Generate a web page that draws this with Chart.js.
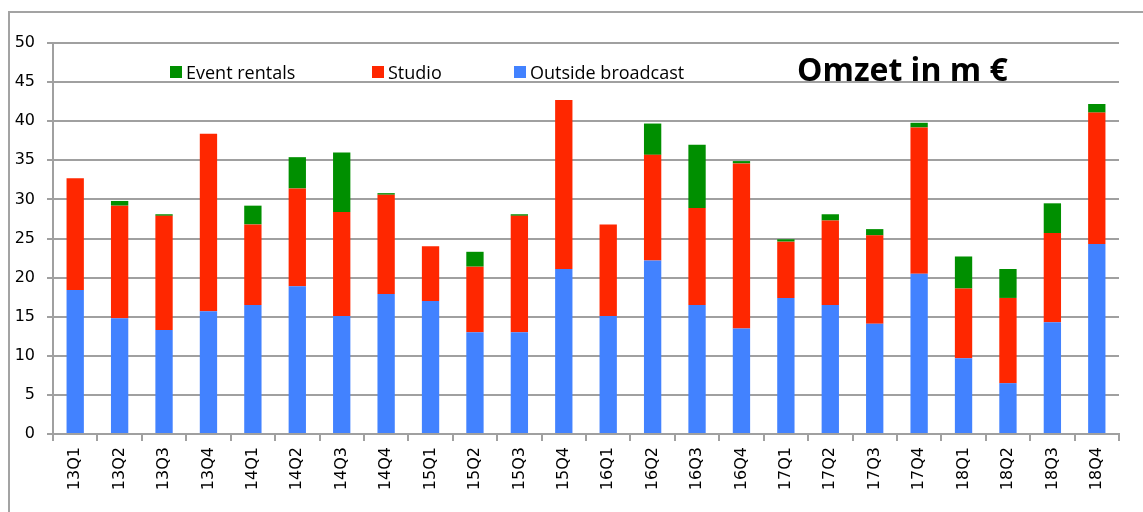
<!DOCTYPE html>
<html>
<head>
<meta charset="utf-8">
<script src="https://cdn.jsdelivr.net/npm/chart.js@4"></script>
<style>
    html, body { margin: 0; padding: 0; background: #fff; }
    #wrap { position: relative; width: 1143px; height: 512px; overflow: hidden; }
    #frame { position: absolute; left: 8px; top: 11px; width: 2000px; height: 1000px;
             border-left: 2px solid #a3a3a3; border-top: 2px solid #a3a3a3; }
    #chart { position: absolute; left: 0; top: 0; }
</style>
</head>
<body>
<div id="wrap">
    <div id="frame"></div>
    <canvas id="chart" width="1143" height="512"></canvas>
</div>
<script>
// Kwartalen 2013 - 2018
const quarters = ['13Q1','13Q2','13Q3','13Q4','14Q1','14Q2','14Q3','14Q4',
                  '15Q1','15Q2','15Q3','15Q4','16Q1','16Q2','16Q3','16Q4',
                  '17Q1','17Q2','17Q3','17Q4','18Q1','18Q2','18Q3','18Q4'];

// Omzet per segment (m €)
const outsideBroadcast = [18.4, 14.8, 13.3, 15.7, 16.5, 18.9, 15.1, 17.9,
                          17.0, 13.0, 13.0, 21.1, 15.1, 22.2, 16.5, 13.5,
                          17.4, 16.5, 14.1, 20.5, 9.7, 6.5, 14.3, 24.3];
const studio = [14.3, 14.4, 14.6, 22.7, 10.3, 12.5, 13.3, 12.7,
                7.0, 8.4, 14.9, 21.6, 11.7, 13.5, 12.4, 21.1,
                7.2, 10.8, 11.3, 18.7, 8.9, 10.9, 11.4, 16.8];
const eventRentals = [0, 0.6, 0.2, 0, 2.4, 4.0, 7.6, 0.2,
                      0, 1.9, 0.2, 0, 0, 4.0, 8.1, 0.3,
                      0.3, 0.8, 0.8, 0.6, 4.1, 3.7, 3.8, 1.1];

const yTicks = [0, 5, 10, 15, 20, 25, 30, 35, 40, 45, 50];

const GRID = '#a0a0a0';

// Legenda + titel binnen het plotgebied
const overlay = {
    id: 'overlay',
    afterDraw(chart) {
        const ctx = chart.ctx;
        const legendX = [170, 372, 514];
        const sets = chart.data.datasets.slice().reverse();
        ctx.save();
        ctx.font = '18px "Open Sans"';
        ctx.textBaseline = 'alphabetic';
        ctx.textAlign = 'left';
        sets.forEach((ds, i) => {
            ctx.fillStyle = ds.backgroundColor;
            ctx.fillRect(legendX[i], 66, 12, 12);
            ctx.fillStyle = '#000';
            ctx.fillText(ds.label, legendX[i] + 16, 79);
        });
        ctx.font = 'bold 32px "Open Sans"';
        ctx.fillStyle = '#000';
        ctx.fillText('Omzet in m €', 797, 81);
        ctx.restore();
    }
};

new Chart(document.getElementById('chart'), {
    type: 'bar',
    data: {
        labels: quarters,
        datasets: [
            { label: 'Outside broadcast', data: outsideBroadcast, backgroundColor: '#4282ff' },
            { label: 'Studio', data: studio, backgroundColor: '#ff2700' },
            { label: 'Event rentals', data: eventRentals, backgroundColor: '#008f00' }
        ]
    },
    options: {
        responsive: false,
        animation: false,
        layout: { padding: { left: 0, right: 24, top: 43, bottom: 0 } },
        datasets: {
            bar: { barPercentage: 0.39, categoryPercentage: 1.0, borderWidth: 0 }
        },
        plugins: {
            legend: { display: false },
            tooltip: { enabled: false }
        },
        scales: {
            x: {
                stacked: true,
                offset: true,
                afterFit: s => { s.height = 78; },
                grid: { offset: true, drawOnChartArea: false, color: GRID, lineWidth: 2, tickLength: 7 },
                border: { color: GRID, width: 2 },
                ticks: {
                    color: '#000',
                    font: { family: 'DejaVu Sans', size: 16 },
                    minRotation: 90, maxRotation: 90,
                    padding: 6,
                    autoSkip: false
                }
            },
            y: {
                stacked: true,
                min: 0,
                max: 50,
                afterFit: s => { s.width = 53; },
                afterBuildTicks: s => { s.ticks = yTicks.map(v => ({ value: v })); },
                grid: { color: GRID, lineWidth: 2, tickLength: 6 },
                border: { color: GRID, width: 2 },
                ticks: {
                    color: '#000',
                    font: { family: 'DejaVu Sans', size: 16 },
                    padding: 12
                }
            }
        }
    },
    plugins: [overlay]
});
</script>
</body>
</html>
